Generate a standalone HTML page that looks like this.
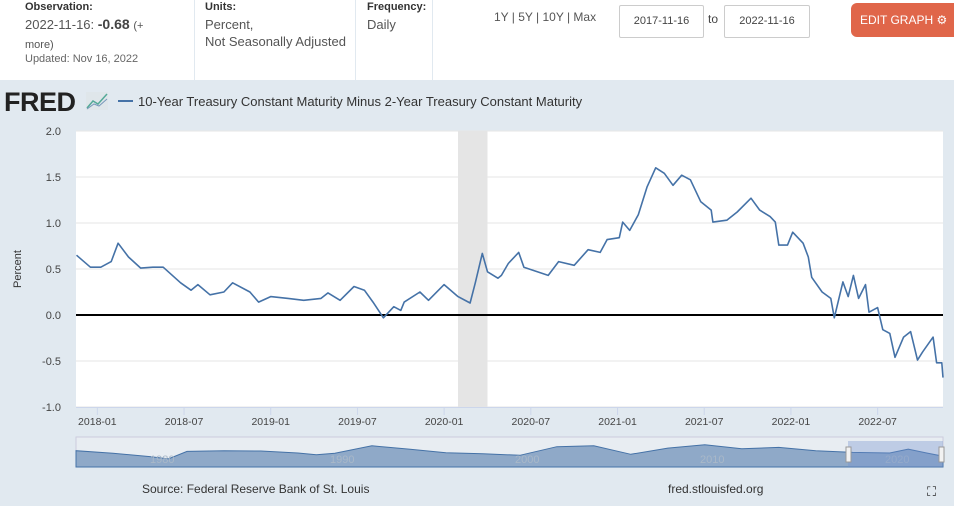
<!DOCTYPE html>
<html><head><meta charset="utf-8"><style>
body{margin:0;width:954px;height:506px;overflow:hidden;background:#e1e9f0;font-family:"Liberation Sans",sans-serif;position:relative}
.hdr{position:absolute;left:0;top:0;width:954px;height:80px;background:#fff}
.abs{position:absolute}
.lbl{font-size:11px;font-weight:bold;color:#333}
.val{font-size:13px;color:#555;line-height:17px}
.vsep{position:absolute;top:0;width:1px;height:80px;background:#e1e9f0}
.inp{position:absolute;top:5px;height:31px;border:1px solid #ccc;background:#fff;font-size:11px;color:#444;line-height:31px;text-align:center;border-radius:2px}
</style></head><body>
<div class="hdr">
<div class="abs lbl" style="left:25px;top:1px">Observation:</div>
<div class="abs val" style="left:25px;top:16px">2022-11-16: <b style="font-size:14px;color:#444">-0.68</b> <span style="font-size:11px">(+<br>more)</span></div>
<div class="abs" style="left:25px;top:53px;font-size:11px;color:#666">Updated: Nov 16, 2022</div>
<div class="vsep" style="left:194px"></div>
<div class="abs lbl" style="left:205px;top:1px">Units:</div>
<div class="abs val" style="left:205px;top:16px">Percent,<br>Not Seasonally Adjusted</div>
<div class="vsep" style="left:355px"></div>
<div class="abs lbl" style="left:367px;top:1px">Frequency:</div>
<div class="abs val" style="left:367px;top:16px">Daily</div>
<div class="vsep" style="left:432px"></div>
<div class="abs" style="left:494px;top:10px;font-size:12px;color:#555">1Y | 5Y | 10Y | Max</div>
<div class="inp" style="left:619px;width:83px">2017-11-16</div>
<div class="abs" style="left:708px;top:12px;font-size:12px;color:#444">to</div>
<div class="inp" style="left:724px;width:84px">2022-11-16</div>
<div class="abs" style="left:851px;top:3px;width:110px;height:34px;background:#e0664a;border-radius:6px;color:#fff;font-size:12px;line-height:34px;padding-left:9px;box-sizing:border-box">EDIT GRAPH ⚙</div>
</div>
<svg class="abs" style="left:0;top:0" width="954" height="506" id="chart">
<text x="4" y="111" font-size="27" font-weight="bold" fill="#222" font-family="Liberation Sans" letter-spacing="-0.5">FRED</text>
<g><rect x="86" y="92" width="22" height="18" fill="#dfe6ea"/><polyline points="87,108 93,101 98,104 107,94" fill="none" stroke="#5a9" stroke-width="1.5"/><polyline points="87,109 94,104 99,106 107,99" fill="none" stroke="#79b" stroke-width="1"/></g>
<line x1="118" y1="101" x2="133" y2="101" stroke="#4572a7" stroke-width="2"/>
<text x="138" y="106" font-size="13" fill="#333">10-Year Treasury Constant Maturity Minus 2-Year Treasury Constant Maturity</text>
<rect x="76" y="131" width="867" height="276" fill="#fff"/>
<g id="grid"></g><g id="rec"></g><g id="yax"></g><g id="xax"></g>
<line id="zero" stroke="#000" stroke-width="2"/>
<path id="series" fill="none" stroke="#4572a7" stroke-width="1.6" stroke-linejoin="round"/>
<text transform="translate(21,269) rotate(-90)" text-anchor="middle" font-size="11" fill="#333">Percent</text>
<g>
<rect x="76" y="437" width="867" height="30" fill="#e8edf2" stroke="#ccd"/>
<path id="nav" fill="#8fa9c8" stroke="#4572a7" stroke-width="1"/>
<text x="150" y="463" font-size="11" fill="#a9b8c8">1980</text><text x="330" y="463" font-size="11" fill="#a9b8c8">1990</text><text x="515" y="463" font-size="11" fill="#a9b8c8">2000</text><text x="700" y="463" font-size="11" fill="#a9b8c8">2010</text><text x="885" y="463" font-size="11" fill="#a9b8c8">2020</text>
<rect x="848" y="441" width="95" height="26" fill="#6f8fcf" opacity="0.35"/>
<rect x="846" y="447" width="5" height="15" fill="#f2f2f2" stroke="#999"/>
<rect x="939" y="447" width="5" height="15" fill="#f2f2f2" stroke="#999"/>
</g>
<text x="142" y="493" font-size="12" fill="#333">Source: Federal Reserve Bank of St. Louis</text>
<text x="668" y="493" font-size="12" fill="#333">fred.stlouisfed.org</text>
<text x="927" y="496" font-size="13" fill="#222">⛶</text>
</svg>
<script>
const times=[2017.88,2017.96,2018.02,2018.08,2018.12,2018.18,2018.25,2018.32,2018.38,2018.48,2018.54,2018.58,2018.65,2018.73,2018.78,2018.88,2018.93,2019.00,2019.10,2019.19,2019.29,2019.33,2019.40,2019.48,2019.54,2019.59,2019.65,2019.71,2019.75,2019.77,2019.86,2019.91,2020.00,2020.08,2020.15,2020.18,2020.22,2020.25,2020.31,2020.33,2020.37,2020.43,2020.46,2020.60,2020.66,2020.75,2020.83,2020.90,2020.94,2021.01,2021.03,2021.07,2021.12,2021.17,2021.22,2021.27,2021.32,2021.37,2021.42,2021.48,2021.54,2021.55,2021.63,2021.69,2021.77,2021.82,2021.88,2021.91,2021.93,2021.98,2022.01,2022.07,2022.10,2022.12,2022.18,2022.23,2022.25,2022.30,2022.33,2022.36,2022.39,2022.43,2022.45,2022.50,2022.53,2022.57,2022.60,2022.65,2022.69,2022.73,2022.76,2022.82,2022.84,2022.87,2022.877];
const values=[0.65,0.52,0.52,0.58,0.78,0.63,0.51,0.52,0.52,0.35,0.27,0.33,0.22,0.25,0.35,0.25,0.14,0.20,0.18,0.16,0.18,0.24,0.16,0.31,0.27,0.14,-0.03,0.09,0.05,0.14,0.25,0.16,0.33,0.20,0.13,0.35,0.67,0.47,0.40,0.43,0.56,0.68,0.52,0.43,0.58,0.54,0.71,0.68,0.82,0.84,1.01,0.92,1.09,1.39,1.60,1.54,1.41,1.52,1.47,1.23,1.14,1.01,1.03,1.12,1.27,1.14,1.07,1.01,0.76,0.76,0.90,0.78,0.63,0.41,0.25,0.18,-0.03,0.36,0.20,0.43,0.18,0.33,0.03,0.08,-0.16,-0.20,-0.46,-0.24,-0.18,-0.49,-0.40,-0.24,-0.52,-0.52,-0.68];
const yTicks=[2.0,1.5,1.0,0.5,0.0,-0.5,-1.0];
const xTickLabels=["2018-01","2018-07","2019-01","2019-07","2020-01","2020-07","2021-01","2021-07","2022-01","2022-07"];
const xTickTimes=[2018.0,2018.5,2019.0,2019.5,2020.0,2020.5,2021.0,2021.5,2022.0,2022.5];
const recession=[2020.08,2020.25];
const navYears=[1976,1978,1980,1981,1982,1984,1986,1988,1989,1990,1992,1994,1996,1998,2000,2002,2004,2006,2008,2010,2012,2014,2016,2018,2020,2021,2022,2022.88];
const navValues=[1.0,0.2,-0.8,-1.5,0.8,1.0,0.9,0.3,-0.2,0.2,2.5,1.5,0.4,0.1,-0.4,2.2,2.5,-0.1,1.8,2.8,1.6,2.0,1.0,0.5,0.3,1.5,0.3,-0.68];
const NS='http://www.w3.org/2000/svg';
const L=76,R=943,T=131,B=407,t0=2017.877,t1=2022.877;
const xs=t=>L+(t-t0)/(t1-t0)*(R-L);
const ys=v=>T+(2-v)/3*(B-T);
function mk(tag,attrs,parent){const e=document.createElementNS(NS,tag);for(const k in attrs)e.setAttribute(k,attrs[k]);document.getElementById(parent).appendChild(e);return e;}
yTicks.forEach(v=>{
 const g=mk('line',{x1:L,x2:R,y1:ys(v),y2:ys(v),stroke:'#e6e6e6'},'grid');
 
 
 const t=mk('text',{x:61,y:ys(v)+4,'text-anchor':'end','font-size':11,fill:'#444'},'yax');
 
 
 t.textContent=v.toFixed(1);
});
const rr=mk('rect',{x:xs(recession[0]),y:T,width:xs(recession[1])-xs(recession[0]),height:B-T,fill:'#e5e5e5'},'rec');


mk('line',{x1:L,x2:R,y1:B+0.5,y2:B+0.5,stroke:'#ccd6eb'},'xax');
xTickTimes.forEach((t,i)=>{
 mk('line',{x1:xs(t),x2:xs(t),y1:B,y2:B+8,stroke:'#ccd6eb'},'xax');
 const lb=mk('text',{x:xs(t),y:B+18,'text-anchor':'middle','font-size':10.5,fill:'#444'},'xax');
 
 
 lb.textContent=xTickLabels[i];
});
const z=document.getElementById('zero');z.setAttribute('x1',L);z.setAttribute('x2',R);z.setAttribute('y1',ys(0));z.setAttribute('y2',ys(0));
document.getElementById('series').setAttribute('d',times.map((t,i)=>(i?'L':'M')+xs(t).toFixed(1)+','+ys(values[i]).toFixed(1)).join(''));
const nx=t=>76+(t-1976)/(2022.88-1976)*867, ny=v=>454-v*3.3;
document.getElementById('nav').setAttribute('d','M76,467'+navYears.map((t,i)=>'L'+nx(t).toFixed(1)+','+ny(navValues[i]).toFixed(1)).join('')+'L943,467Z');
</script>
</body></html>
